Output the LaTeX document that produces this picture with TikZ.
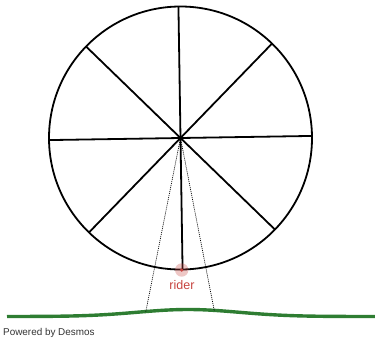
\documentclass[tikz,border=0pt]{standalone}
\usepackage{fontspec}
\setmainfont{Liberation Sans}
\usepackage{xcolor}
\definecolor{wheelred}{HTML}{C74440}
\definecolor{ground}{HTML}{2E7D32}
\definecolor{credit}{HTML}{333333}
\usepackage{tikz}
\usetikzlibrary{positioning, calc}

\begin{document}
\begin{tikzpicture}[x=1pt, y=-1pt,
    wheel/.style={line width=1.8pt, black},
    sight/.style={line width=0.7pt, black, dash pattern=on 1pt off 1pt}]

  \useasboundingbox (0,0) rectangle (375,341);

  % Wheel
  \coordinate (hub) at (180.5,138);
  \draw[wheel] (hub) circle[radius=131.5];
  \foreach \a in {0,45,...,315}
    \draw[wheel] (hub) -- ++(\a-0.9:131.5);
  \fill[black] (hub) circle[radius=2.4];

  % Ground
  \draw[ground, line width=3.4pt]
    plot[domain=7:375, samples=90, smooth]
      (\x, {316.5-7*exp(-((\x-188)/72)^2)});

  % Sight lines
  \coordinate (gl) at (145.7,312.1);
  \coordinate (gr) at (214.3,310.8);
  \draw[sight] (hub) -- (gl);
  \draw[sight] (hub) -- (gr);

  % Rider
  \fill[wheelred, opacity=0.3] (181.7,270) circle[radius=6.7];
  \fill[wheelred] (181.7,270) circle[radius=1.8] coordinate (seat);
  \node[font=\fontsize{12.5}{14}\selectfont, text=wheelred, inner sep=0pt,
        anchor=base] (rider) at (182,289.3) {rider};

  \node[font=\fontsize{9.9}{11}\selectfont, text=credit, inner sep=0pt,
        anchor=base west] (credit) at (3,335) {Powered by Desmos};

\end{tikzpicture}
\end{document}
